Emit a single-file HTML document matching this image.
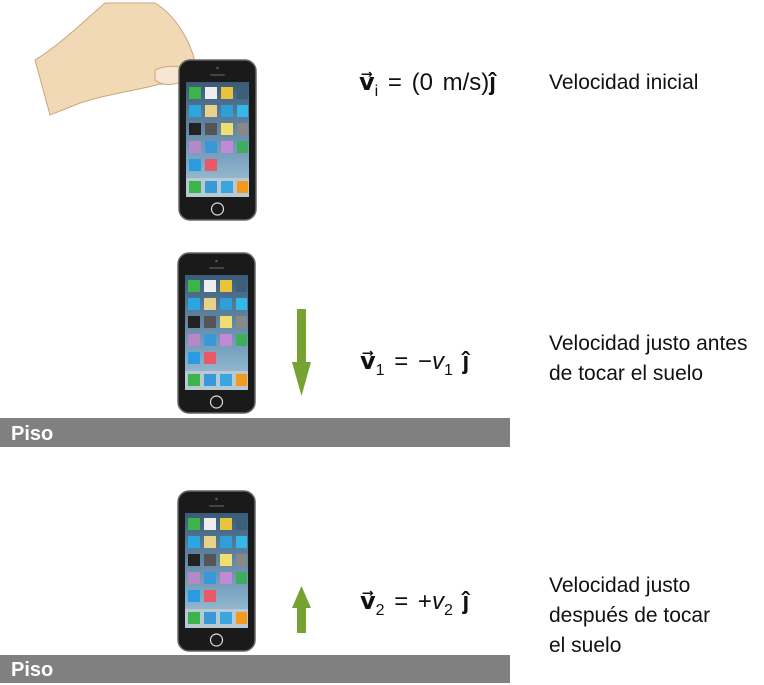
<!DOCTYPE html>
<html><head><meta charset="utf-8"><style>
body{margin:0;width:764px;height:683px;background:#fff;position:relative;overflow:hidden;font-family:"Liberation Sans",sans-serif;}
.t{position:absolute;font-size:21px;color:#111;line-height:30px;white-space:nowrap}
.eq{position:absolute;font-size:24px;color:#111;white-space:nowrap;word-spacing:3px}
.floor{position:absolute;left:0;width:510px;background:#808080;color:#fff;font-weight:bold;font-size:20px;padding-left:11px;box-sizing:border-box}
svg{position:absolute;left:0;top:0}
</style></head><body>
<svg width="764" height="683">
<defs>
<linearGradient id="sg" x1="0" y1="0" x2="0" y2="1"><stop offset="0" stop-color="#3a5a78"/><stop offset="0.7" stop-color="#7fa8c4"/><stop offset="1" stop-color="#a9c7d9"/></linearGradient>
<g id="ph">
<rect x="0" y="0" width="77" height="160" rx="11" fill="#1a1a1a" stroke="#666" stroke-width="1.5"/>
<rect x="7" y="22" width="63" height="115" fill="url(#sg)"/>
<circle cx="38.5" cy="8" r="1.3" fill="#555"/>
<rect x="31" y="14" width="15" height="2" rx="1" fill="#444"/>
<circle cx="38.5" cy="149" r="6" fill="none" stroke="#ddd" stroke-width="1.2"/>
<rect x="10" y="27" width="12" height="12" fill="#3bb54a"/><rect x="26" y="27" width="12" height="12" fill="#eee"/><rect x="42" y="27" width="12" height="12" fill="#e8c43a"/><rect x="58" y="27" width="11" height="12" fill="#3c5f7a"/>
<rect x="10" y="45" width="12" height="12" fill="#2aa6e0"/><rect x="26" y="45" width="12" height="12" fill="#e6d28a"/><rect x="42" y="45" width="12" height="12" fill="#2f9fd8"/><rect x="58" y="45" width="11" height="12" fill="#33b8e8"/>
<rect x="10" y="63" width="12" height="12" fill="#222"/><rect x="26" y="63" width="12" height="12" fill="#555"/><rect x="42" y="63" width="12" height="12" fill="#f1de70"/><rect x="58" y="63" width="11" height="12" fill="#888"/>
<rect x="10" y="81" width="12" height="12" fill="#b588c8"/><rect x="26" y="81" width="12" height="12" fill="#3a98d8"/><rect x="42" y="81" width="12" height="12" fill="#c08ad6"/><rect x="58" y="81" width="11" height="12" fill="#3fae5a"/>
<rect x="10" y="99" width="12" height="12" fill="#2a9be0"/><rect x="26" y="99" width="12" height="12" fill="#e85a68"/>
<rect x="7" y="118" width="63" height="19" fill="#b9c9d4"/>
<rect x="10" y="121" width="12" height="12" fill="#3bb54a"/><rect x="26" y="121" width="12" height="12" fill="#3a98d8"/><rect x="42" y="121" width="12" height="12" fill="#3aa6e0"/><rect x="58" y="121" width="11" height="12" fill="#f29a1e"/>
</g>
</defs>
<!-- hand -->
<path d="M35,60 C60,45 85,20 105,3 L155,3 C175,15 190,40 195,62 L185,70 C182,80 172,85 160,84 C140,90 100,95 75,105 L50,115 Z" fill="#f2d9b5" stroke="#c9a57a" stroke-width="1"/>
<path d="M155,70 C165,65 180,65 185,70 L184,80 C175,86 162,86 155,80 Z" fill="#f6e6d3" stroke="#c9a57a" stroke-width="1"/>
<use href="#ph" x="179" y="60"/>
<use href="#ph" x="178" y="253"/>
<use href="#ph" x="178" y="491"/>
<rect x="297" y="309" width="9" height="56" fill="#76a232"/>
<polygon points="292,362 311,362 301.5,396" fill="#76a232"/>
<rect x="297" y="604" width="9" height="29" fill="#76a232"/>
<polygon points="292,608 311,608 301.5,586" fill="#76a232"/>
</svg>
<div class="floor" style="top:418px;height:29px;line-height:32px">Piso</div>
<div class="floor" style="top:655px;height:28px;line-height:30px">Piso</div>
<div class="eq" style="left:359px;top:68px"><b>v⃗</b><sub style="font-size:16px">i</sub> = (0 m/s)<b>ĵ</b></div>
<div class="eq" style="left:360px;top:347px"><b>v⃗</b><sub style="font-size:16px">1</sub> = −<i>v</i><sub style="font-size:16px">1</sub> <b>ĵ</b></div>
<div class="eq" style="left:360px;top:587px"><b>v⃗</b><sub style="font-size:16px">2</sub> = +<i>v</i><sub style="font-size:16px">2</sub> <b>ĵ</b></div>
<div class="t" style="left:549px;top:68px">Velocidad inicial</div>
<div class="t" style="left:549px;top:329px">Velocidad justo antes<br>de tocar el suelo</div>
<div class="t" style="left:549px;top:571px">Velocidad justo<br>después de tocar<br>el suelo</div>
</body></html>
